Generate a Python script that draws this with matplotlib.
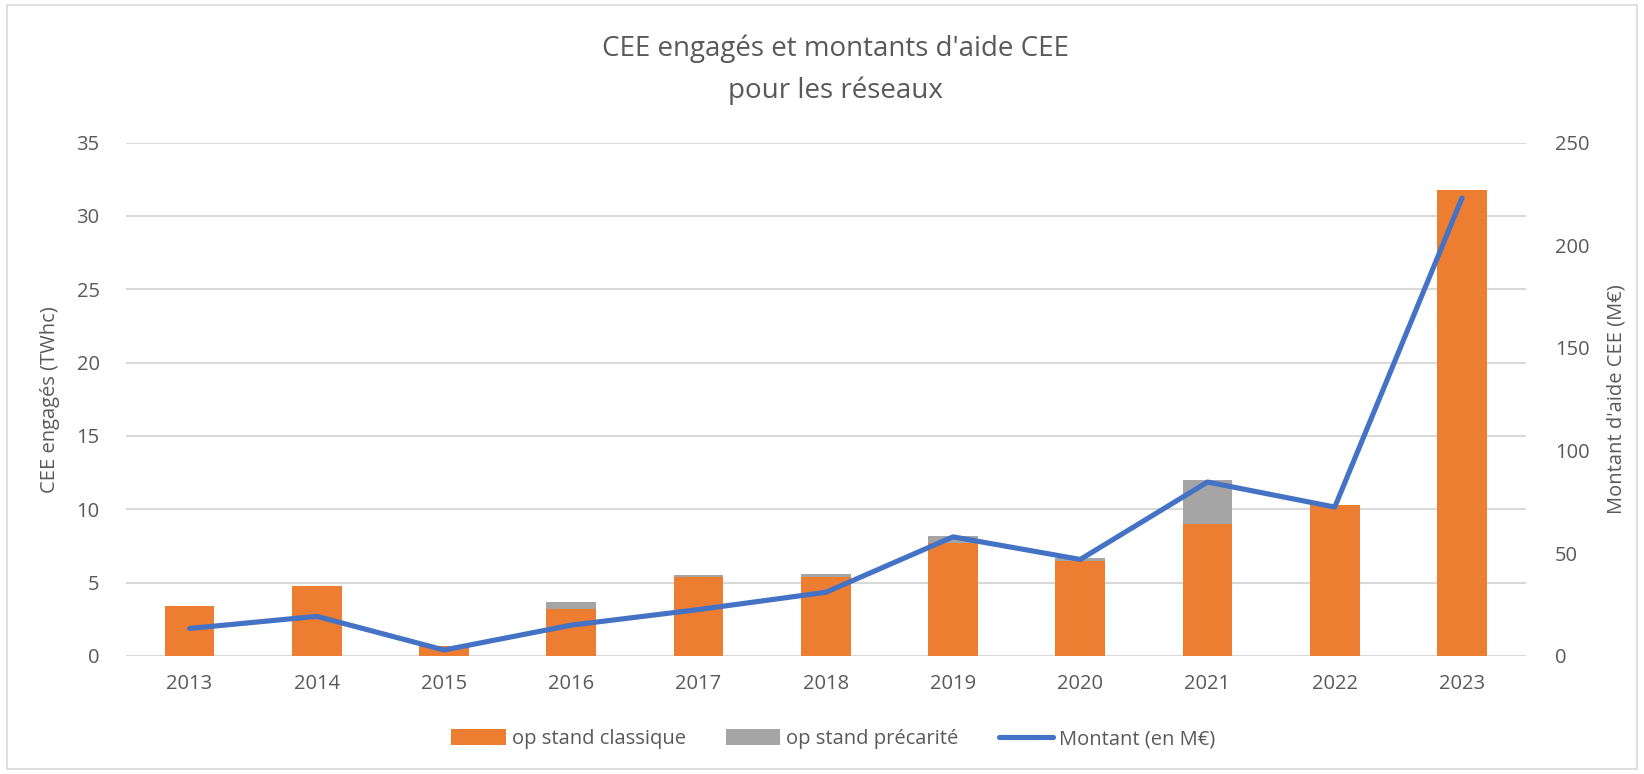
import numpy as np
import matplotlib.pyplot as plt
from matplotlib.patches import Rectangle

plt.rcParams['font.family'] = ['Open Sans', 'DejaVu Sans']

annees = ['2013', '2014', '2015', '2016', '2017', '2018', '2019', '2020', '2021', '2022', '2023']
classique = [3.4, 4.8, 0.7, 3.2, 5.4, 5.4, 7.7, 6.45, 9.0, 10.3, 31.8]
precarite = [0.0, 0.0, 0.0, 0.45, 0.12, 0.2, 0.5, 0.2, 3.0, 0.0, 0.0]
montant = [13.4, 19.3, 2.9, 15.0, 22.6, 31.0, 58.0, 47.0, 84.7, 72.5, 223.0]

orange = '#ED7D31'
gris = '#A5A5A5'
bleu = '#4472C4'
texte = '#595959'
fs = 14.5

fig = plt.figure(figsize=(16.44, 7.74), dpi=100)
ax = fig.add_axes([0.0766, 0.1525, 0.8514, 0.6633])
x = np.arange(len(annees))

b1 = ax.bar(x, classique, width=0.39, color=orange, label='op stand classique', zorder=2)
b2 = ax.bar(x, precarite, width=0.39, bottom=classique, color=gris,
            label='op stand précarité', zorder=2)

ax.set_xlim(-0.5, len(annees) - 0.5)
ax.set_ylim(0, 35)
ax.set_yticks(range(0, 36, 5))
ax.set_xticks(x)
ax.set_xticklabels(annees)
ax.grid(axis='y', color='#D9D9D9', lw=1.5, zorder=0)
ax.set_axisbelow(True)
for s in ax.spines.values():
    s.set_visible(False)
ax.tick_params(axis='both', length=0, labelsize=fs, labelcolor=texte)
ax.tick_params(axis='y', pad=19)
ax.tick_params(axis='x', pad=13)
ax.set_ylabel('CEE engagés (TWhc)', fontsize=fs, color=texte, labelpad=12)

ax2 = ax.twinx()
l1, = ax2.plot(x, montant, color=bleu, lw=3.7, solid_capstyle='round',
               solid_joinstyle='round', label='Montant (en M€)')
ax2.set_ylim(0, 250)
ax2.set_yticks(range(0, 251, 50))
for s in ax2.spines.values():
    s.set_visible(False)
ax2.tick_params(axis='y', length=0, labelsize=fs, labelcolor=texte, pad=21)
ax2.set_ylabel("Montant d'aide CEE (M€)", fontsize=fs, color=texte, labelpad=12)

fig.text(0.508, 0.937, "CEE engagés et montants d'aide CEE", ha='center', va='center',
         fontsize=20, color=texte)
fig.text(0.508, 0.883, 'pour les réseaux', ha='center', va='center',
         fontsize=20, color=texte)

fig.legend(handles=[b1, b2, l1], loc='center', bbox_to_anchor=(0.507, 0.045), ncol=3,
           frameon=False, fontsize=fs, labelcolor=texte, handlelength=2.7,
           handleheight=0.85, handletextpad=0.3, columnspacing=2.0)

# cadre du graphique
fig.patches.append(Rectangle((0.004, 0.006), 0.992, 0.988, transform=fig.transFigure,
                             fill=False, edgecolor='#D9D9D9', lw=1.2))

fig.savefig('out.png', dpi=100)
